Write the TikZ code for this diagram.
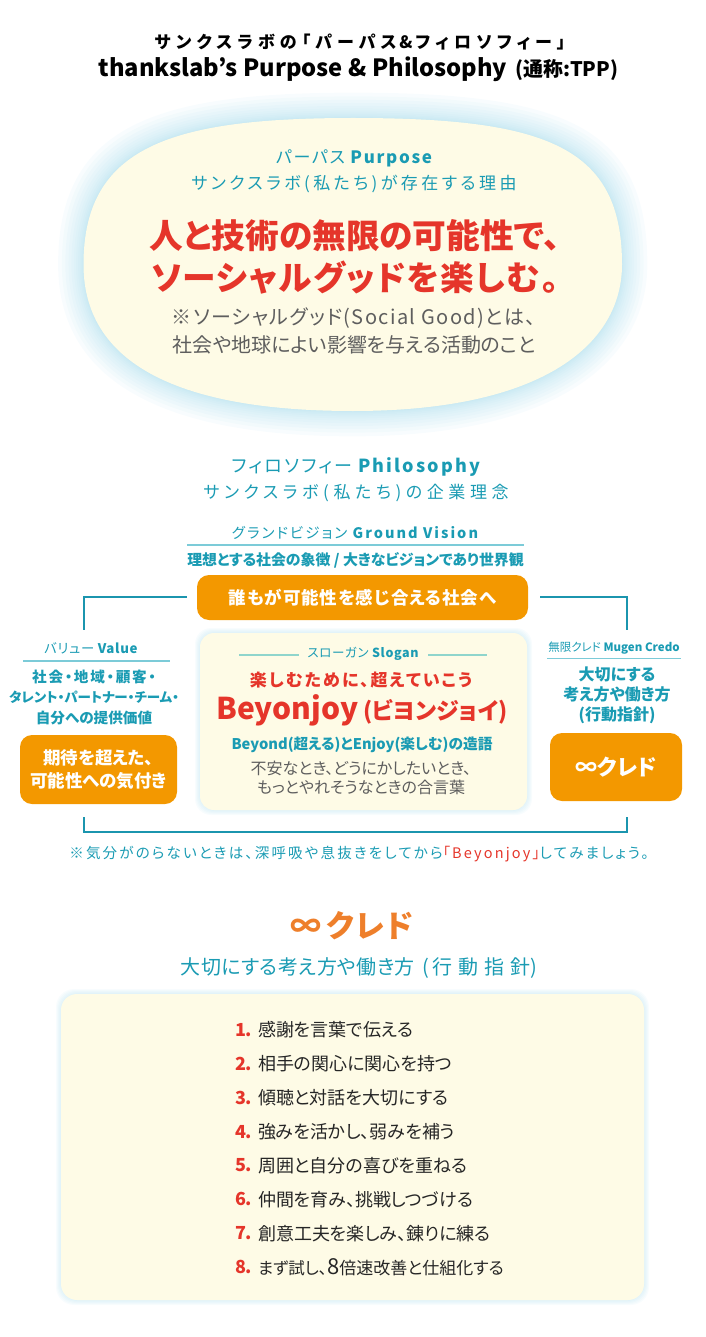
\documentclass[tikz,border=0pt]{standalone}
\usepackage{fontspec}
\setmainfont{Noto Sans CJK JP}[RawFeature=+palt]
\usepackage{tikz}
\usetikzlibrary{positioning,shapes}
\definecolor{tpteal}{HTML}{1A9BB3}
\definecolor{tpline}{HTML}{1B95AE}
\definecolor{tprule}{HTML}{7CCBD8}
\definecolor{tpmint}{HTML}{8FD5CC}
\definecolor{tpred}{HTML}{E5352A}
\definecolor{tporange}{HTML}{F39800}
\definecolor{tpcredo}{HTML}{EE7F2B}
\definecolor{tpcream}{HTML}{FEFBE6}
\definecolor{tpglow}{HTML}{A9DCEC}
\definecolor{tpgray}{HTML}{5E5E5E}
\newcommand{\fz}[1]{\fontsize{#1}{#1}\selectfont}
\newcommand{\ls}[1]{\addfontfeature{LetterSpace=#1}}
\newcommand{\blob}{(269,0) .. controls (269,-118) and (193,-146.5) .. (0,-146.5)
  .. controls (-182,-146.5) and (-269.5,-118) .. (-269.5,0)
  .. controls (-269.5,106) and (-161,146.5) .. (0,146.5)
  .. controls (193,146.5) and (269,78) .. (269,0) -- cycle}

\begin{document}
\begin{tikzpicture}[x=1pt,y=-1pt,inner sep=0pt,outer sep=0pt]
  \tikzstyle{teal}=[text=tpteal]
  \tikzstyle{tealb}=[text=tpteal, font=\bfseries]
  \tikzstyle{orangebox}=[fill=tporange, rounded corners=12pt, text=white, font=\bfseries, align=center]
  \tikzstyle{creambox}=[fill=tpcream, rounded corners=14pt]
  \tikzstyle{glow}=[fill=tpglow, fill opacity=0.08]
  \tikzstyle{bracket}=[draw=tpline, line width=2.4pt]
  \tikzstyle{thinrule}=[draw=tprule, line width=1.2pt]

  \useasboundingbox (0,0) rectangle (705,1337);

  % heading
  \node (title) at (360,42) {\fz{17}\bfseries\ls{30}サンクスラボの「パーパス\,\&\,フィロソフィー」};
  \node (subtitle) at (358.5,69)
    {\bfseries\fz{23.7}thankslab’s Purpose \& Philosophy\hspace{8pt}\fz{20}(通称:TPP)};

  % purpose
  \foreach \g in {1,...,13}
    \fill[glow, shift={(353,264.5)}, xscale=1+0.15*\g*\g/269, yscale=1+0.15*\g*\g/146.5] \blob;
  \fill[tpcream, shift={(353,264.5)}] \blob;
  \node[teal] (ptitle) at (354,158) {\fz{17}\ls{10}パーパス\ \bfseries Purpose};
  \node[teal] (preason) at (354,184)
    {\fz{17}\ls{20}サンクスラボ(私たち)が存在する理由};
  \node[text=tpred] (pmain1) at (355,236) {\fz{33.7}\bfseries 人と技術の無限の可能性で、};
  \node[text=tpred] (pmain2) [below of = pmain1, node distance=42pt] {\fz{33.7}\bfseries\ls{4}ソーシャルグッドを楽しむ。};
  \node[text=tpgray] (pnote1) at (354,318) {\fz{20}\ls{7}※ソーシャルグッド(Social Good)とは、};
  \node[text=tpgray] (pnote2) [below of = pnote1, node distance=27pt] {\fz{20}社会や地球によい影響を与える活動のこと};

  % philosophy
  \node[teal] (phtitle) at (356,467) {\fz{18}\ls{12}フィロソフィー\ \bfseries Philosophy};
  \node[teal] (phreason) at (356,493)
    {\fz{17}\ls{27}サンクスラボ(私たち)の企業理念};
  \node[teal] (gvtitle) at (355,533) {\fz{14.5}\ls{14}グランドビジョン\ \bfseries Ground Vision};
  \coordinate (gvl) at (187,545);
  \coordinate (gvr) at (524,545);
  \draw[thinrule] (gvl) -- (gvr);
  \node[tealb] (gvtext) at (355.5,560) {\fz{14.9}理想とする社会の象徴 / 大きなビジョンであり世界観};
  \node[orangebox, minimum width=331pt, minimum height=45pt] (vision) at (362.5,597.5)
    {\fz{17.5}\ls{5}誰もが可能性を感じ合える社会へ};

  % slogan
  \foreach \g in {1,...,5}
    \fill[glow, rounded corners=16pt] (200-\g,633-\g) rectangle (527+\g,810+\g);
  \node[creambox, minimum width=327pt, minimum height=177pt] (slogan) at (363.5,721.5) {};
  \node[teal] (sltitle) at (363,654) {\fz{12.5}\ls{5}スローガン\ \bfseries Slogan};
  \coordinate (sla) at (239,655);
  \coordinate (slb) at (299,655);
  \coordinate (slc) at (428,655);
  \coordinate (sld) at (487,655);
  \draw[draw=tpmint, line width=1.2pt] (sla) -- (slb) (slc) -- (sld);
  \node[text=tpred] (slcatch) at (361,680) {\fz{17}\bfseries\ls{12}楽しむために、超えていこう};
  \node[text=tpred] (slname) at (362,710) {\bfseries\fz{30}Beyonjoy\hspace{5pt}\fz{23}(ビヨンジョイ)};
  \node[tealb] (slword) at (362,745) {\fz{14.7}Beyond(超える)とEnjoy(楽しむ)の造語};
  \node[text=tpgray] (slnote1) at (361,768) {\fz{16}不安なとき、どうにかしたいとき、};
  \node[text=tpgray] (slnote2) [below of = slnote1, node distance=19pt] {\fz{16}もっとやれそうなときの合言葉};

  % value
  \node[teal] (vatitle) at (91,648) {\fz{13.3}\ls{5}バリュー\ \bfseries Value};
  \coordinate (val) at (23,661);
  \coordinate (var) at (170,661);
  \draw[thinrule] (val) -- (var);
  \node[tealb] (vatext1) at (94,677) {\fz{14.6}\ls{12}社会・地域・顧客・};
  \node[tealb] (vatext2) [below of = vatext1, node distance=20.5pt] {\fz{13.5}タレント・パートナー・チーム・};
  \node[tealb] (vatext3) [below of = vatext2, node distance=20.5pt] {\fz{14.6}自分への提供価値};
  \node[orangebox, minimum width=157pt, minimum height=69pt] (value) at (98.5,769.5)
    {\fz{17.5}期待を超えた、\\[5pt]\fz{17.5}可能性への気付き};

  % credo
  \node[teal] (crtitle) at (614,648) {\fz{11.5}無限クレド\ \bfseries Mugen Credo};
  \coordinate (crl) at (547,658.5);
  \coordinate (crr) at (681,658.5);
  \draw[thinrule] (crl) -- (crr);
  \node[tealb] (crtext1) at (617,674) {\fz{16}大切にする};
  \node[tealb] (crtext2) [below of = crtext1, node distance=20.5pt] {\fz{16}考え方や働き方};
  \node[tealb] (crtext3) [below of = crtext2, node distance=20.5pt] {\fz{16}(行動指針)};
  \node[orangebox, minimum width=132pt, minimum height=68pt] (credo) at (616,767) {\fz{22}∞クレド};

  % brackets
  \coordinate (visl) at (187,597);
  \coordinate (visr) at (540,597);
  \coordinate (valt) at (84,630);
  \coordinate (crt) at (627,630);
  \coordinate (valb) at (84,817);
  \coordinate (crb) at (627,817);
  \coordinate (botm) at (355,832);
  \draw[bracket] (visl) -| (valt);
  \draw[bracket] (visr) -| (crt);
  \draw[bracket] (valb) |- (botm) -| (crb);

  \node[teal] (tip) at (359,854)
    {\fz{14.5}\ls{15}※気分がのらないときは、深呼吸や息抜きをしてから\textcolor{tpred}{「Beyonjoy」}してみましょう。};

  % credo list
  \node[text=tpcredo] (ltitle) at (352,926) {\bfseries\fz{31}∞\hspace{4pt}\ls{5}クレド};
  \node[teal] (lsub) at (359,968) {\fz{20}\ls{2}大切にする考え方や働き方\hspace{8pt}(\hspace{3pt}\ls{30}行動指針\ls{2})};
  \foreach \g in {1,...,5}
    \fill[glow, rounded corners=18pt] (61-\g,994-\g) rectangle (644+\g,1300+\g);
  \node[creambox, rounded corners=16pt, minimum width=583pt, minimum height=306pt] (lbox) at (352.5,1147) {};
  \foreach \txt [count=\n] in {感謝を言葉で伝える, 相手の関心に関心を持つ, 傾聴と対話を大切にする,
      強みを活かし、弱みを補う, 周囲と自分の喜びを重ねる, 仲間を育み、挑戦しつづける,
      創意工夫を楽しみ、錬りに練る, {\fz{16.5}まず試し、}{\fz{22}8}{\fz{17}倍速改善と仕組化する}} {
    \node[anchor=west, text=tpred] (num\n) at (235,996+33.9*\n) {\bfseries\fz{18}\n.};
    \node[anchor=west, text=black!85] (item\n) at (258,996+33.9*\n) {\fz{18}\txt};
  }
\end{tikzpicture}
\end{document}
